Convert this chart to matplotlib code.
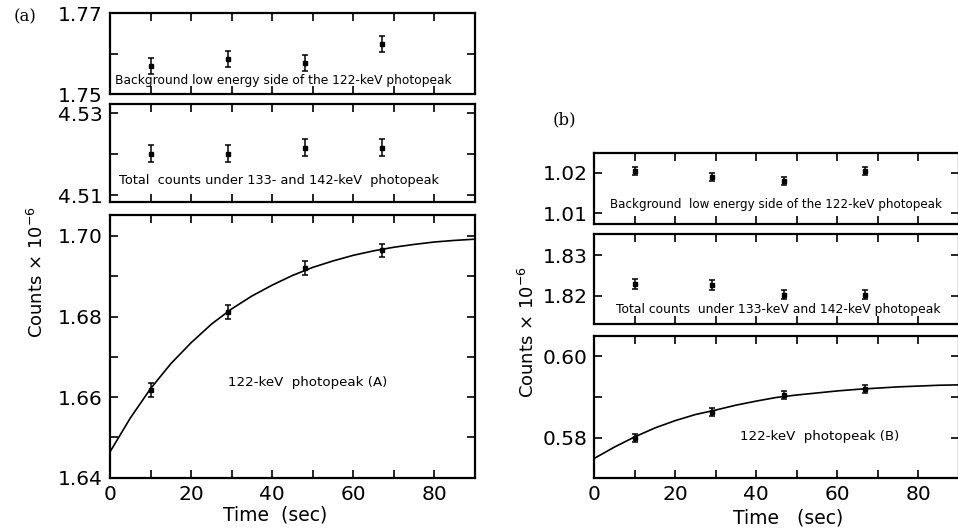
import matplotlib
matplotlib.use("Agg")
import matplotlib.pyplot as plt

# (a) Messpunkte
zeit_a = [10, 29, 48, 67]
bg_a = [1.7569, 1.7586, 1.7577, 1.7624]
bg_a_err = [0.0020, 0.0020, 0.0020, 0.0020]
total_a = [4.5201, 4.5201, 4.5216, 4.5216]
total_a_err = [0.0021, 0.0021, 0.0021, 0.0021]
peak_a = [1.6617, 1.6812, 1.6921, 1.6964]
peak_a_err = [0.0017, 0.0017, 0.0017, 0.0017]

# (b) Messpunkte
zeit_b = [10, 29, 47, 67]
bg_b = [1.0204, 1.0190, 1.0180, 1.0204]
bg_b_err = [0.0010, 0.0010, 0.0010, 0.0010]
total_b = [1.8229, 1.8226, 1.8203, 1.8203]
total_b_err = [0.0012, 0.0012, 0.0012, 0.0012]
peak_b = [0.5800, 0.5864, 0.5904, 0.5920]
peak_b_err = [0.0010, 0.0010, 0.0010, 0.0010]

# Kurven
kurve_t = [0, 5, 10, 15, 20, 25, 30, 35, 40, 45, 50, 55, 60, 65, 70, 75, 80, 85, 90]
kurve_a = [1.6464, 1.6548, 1.6621, 1.6683, 1.6735, 1.6781, 1.6819, 1.6851, 1.6878,
           1.6902, 1.6922, 1.6938, 1.6952, 1.6963, 1.6972, 1.6979, 1.6985, 1.6989, 1.6992]
kurve_b = [0.5749, 0.5777, 0.5802, 0.5824, 0.5842, 0.5857, 0.5868, 0.5880, 0.5890,
           0.5899, 0.5905, 0.5910, 0.5915, 0.5919, 0.5922, 0.5925, 0.5927, 0.5929, 0.5930]

x_major = [0, 20, 40, 60, 80]
x_minor = [10, 30, 50, 70, 90]

W, H = 958, 531
fig = plt.figure(figsize=(W / 100, H / 100), dpi=100)


def achse(links, oben, rechts, unten):
    return fig.add_axes([links / W, 1 - unten / H, (rechts - links) / W, (unten - oben) / H])


def stil(ax, ylim, y_major, y_minor, y_labels, x_labels):
    ax.set_xlim(0, 90)
    ax.set_ylim(*ylim)
    ax.set_xticks(x_major)
    ax.set_xticks(x_minor, minor=True)
    ax.set_yticks(y_major)
    ax.set_yticks(y_minor, minor=True)
    ax.set_yticklabels(y_labels)
    if x_labels:
        ax.set_xticklabels([str(v) for v in x_major])
    else:
        ax.set_xticklabels([])
    ax.tick_params(which="both", direction="in", top=True, right=True, length=6, width=1.2,
                   labelsize=14.5, pad=5)
    for s in ax.spines.values():
        s.set_linewidth(1.6)


def punkte(ax, x, y, err):
    ax.errorbar(x, y, yerr=err, fmt="s", color="black", markersize=3.5, capsize=2.5,
                elinewidth=1.1, capthick=1.1)


# ---------- (a)
ax1 = achse(110, 13, 475, 94)
punkte(ax1, zeit_a, bg_a, bg_a_err)
stil(ax1, (1.75, 1.77), [1.75, 1.77], [1.76], ["1.75", "1.77"], False)
ax1.text(1.3, 1.7518, "Background low energy side of the 122-keV photopeak", fontsize=8.8, va="bottom")

ax2 = achse(110, 104, 475, 201.7)
punkte(ax2, zeit_a, total_a, total_a_err)
stil(ax2, (4.5084, 4.5322), [4.51, 4.53], [4.52], ["4.51", "4.53"], False)
ax2.text(2.3, 4.5135, "Total  counts under 133- and 142-keV  photopeak", fontsize=9.3, va="center")

ax3 = achse(110, 215, 475, 477.7)
ax3.plot(kurve_t, kurve_a, color="black", linewidth=1.2)
punkte(ax3, zeit_a, peak_a, peak_a_err)
stil(ax3, (1.64, 1.7052), [1.64, 1.66, 1.68, 1.70], [1.65, 1.67, 1.69],
     ["1.64", "1.66", "1.68", "1.70"], True)
ax3.text(29, 1.6637, "122-keV  photopeak (A)", fontsize=9.6, va="center")

# ---------- (b)
ax4 = achse(594.3, 152.7, 958.5, 224)
punkte(ax4, zeit_b, bg_b, bg_b_err)
stil(ax4, (1.00736, 1.0249), [1.01, 1.02], [], ["1.01", "1.02"], False)
ax4.text(3.8, 1.0122, "Background  low energy side of the 122-keV photopeak", fontsize=8.6, va="center")

ax5 = achse(594.3, 234, 958.5, 324.3)
punkte(ax5, zeit_b, total_b, total_b_err)
stil(ax5, (1.8130, 1.8352), [1.82, 1.83], [], ["1.82", "1.83"], False)
ax5.text(5.4, 1.8166, "Total counts  under 133-keV and 142-keV photopeak", fontsize=8.9, va="center")

ax6 = achse(594.3, 335.7, 958.5, 478.3)
ax6.plot(kurve_t, kurve_b, color="black", linewidth=1.2)
punkte(ax6, zeit_b, peak_b, peak_b_err)
stil(ax6, (0.5702, 0.6051), [0.58, 0.60], [0.57, 0.59], ["0.58", "0.60"], True)
ax6.text(36, 0.5804, "122-keV  photopeak (B)", fontsize=9.6, va="center")

# Beschriftungen
fig.text(37 / W, 1 - 272 / H, r"Counts $\times$ 10$^{-6}$", rotation=90, fontsize=13,
         ha="center", va="center")
fig.text(528 / W, 1 - 332 / H, r"Counts $\times$ 10$^{-6}$", rotation=90, fontsize=13,
         ha="center", va="center")
fig.text(275 / W, 1 - 515 / H, "Time  (sec)", fontsize=13.5, ha="center", va="center")
fig.text(788 / W, 1 - 518 / H, "Time   (sec)", fontsize=13.5, ha="center", va="center")
fig.text(25 / W, 1 - 17 / H, "(a)", fontsize=12, family="DejaVu Serif", ha="center", va="center")
fig.text(564 / W, 1 - 120 / H, "(b)", fontsize=12, family="DejaVu Serif", ha="center", va="center")

fig.savefig("out.png", dpi=100)
